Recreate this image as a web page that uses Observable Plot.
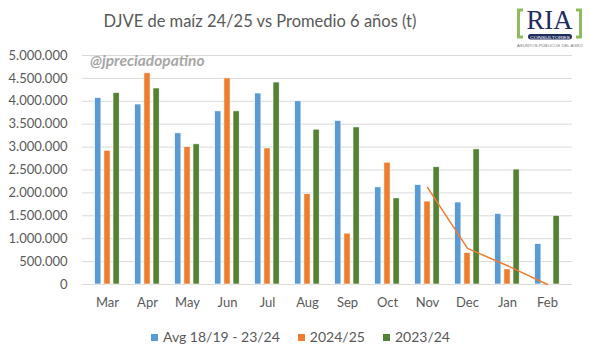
<!DOCTYPE html>
<html><head><meta charset="utf-8">
<script src="https://cdn.jsdelivr.net/npm/d3@7"></script>
<script src="https://cdn.jsdelivr.net/npm/@observablehq/plot@0.6"></script>
<style>
body{margin:0;background:#fff;}
#wrap{position:relative;width:589px;height:357px;font-family:Lato,sans-serif;color:#595959;overflow:hidden;background:#fff;}
#title{position:absolute;top:10px;left:0;width:520px;text-align:center;font-size:16.5px;line-height:22px;}
#chart{position:absolute;top:40px;left:0;}
#wm{position:absolute;top:51px;left:90px;font-size:15.5px;font-weight:bold;font-style:italic;color:#a6a6a6;}
#logo{position:absolute;left:514px;top:4px;}
#legend{position:absolute;top:328px;left:0;width:589px;display:flex;justify-content:center;gap:18px;font-size:14px;line-height:18px;padding-left:12px;box-sizing:border-box;}
#legend span.sw{display:inline-block;width:7px;height:7px;margin-right:5px;vertical-align:1px;}
</style></head><body>
<div id="wrap">
  <div id="title">DJVE de maíz 24/25 vs Promedio 6 años (t)</div>
  <svg id="logo" width="72" height="46" viewBox="0 0 72 46">
    <path d="M9,6 H4.5 V33 H9" fill="none" stroke="#8dbb5e" stroke-width="3"/>
    <path d="M62,6 H66.5 V33 H62" fill="none" stroke="#8dbb5e" stroke-width="3"/>
    <text x="12.5" y="24.5" font-family="Liberation Serif, DejaVu Serif, serif" font-size="27" textLength="46" lengthAdjust="spacingAndGlyphs" fill="#1f2d5c">RIA</text>
    <rect x="14" y="30" width="44" height="5.5" rx="2.75" fill="#1f2d5c"/>
    <text x="16" y="34.6" font-family="Liberation Sans, sans-serif" font-size="4" textLength="40" lengthAdjust="spacingAndGlyphs" fill="#fff">CONSULTORES</text>
    <text x="3" y="43" font-family="Liberation Sans, sans-serif" font-size="4.3" textLength="66" lengthAdjust="spacingAndGlyphs" fill="#777">ASUNTOS PÚBLICOS DEL AGRO</text>
  </svg>
  <div id="chart"></div>
  <div id="wm">@jpreciadopatino</div>
  <div id="legend"></div>
</div>
<script>
const months = ["Mar","Apr","May","Jun","Jul","Aug","Sep","Oct","Nov","Dec","Jan","Feb"];
const avgValues = [4070000,3930000,3300000,3780000,4170000,4000000,3570000,2120000,2170000,1790000,1540000,880000];
const currentValues = [2920000,4610000,3000000,4500000,2970000,1970000,1110000,2660000,1810000,690000,330000,null];
const previousValues = [4180000,4280000,3060000,3780000,4410000,3380000,3430000,1880000,2560000,2950000,2510000,1500000];
const trendMonths = ["Nov","Dec","Jan","Feb"];
const trendValues = [2120000,790000,410000,0];
const yTicks = [0,500000,1000000,1500000,2000000,2500000,3000000,3500000,4000000,4500000,5000000];
const seriesNames = ["Avg 18/19 - 23/24","2024/25","2023/24"];
const seriesColors = ["#5b9bd5","#ed7d31","#548235"];

const rows = months.map((m,i)=>({month:m, avg:avgValues[i], cur:currentValues[i], prev:previousValues[i]}));
const trend = trendMonths.map((m,i)=>({month:m, value:trendValues[i]}));
const fmt = d3.formatLocale({thousands:".", grouping:[3], decimal:","}).format(",d");

const barOpts = {insetLeft:16.9, insetRight:16.9, stroke:"#ffffff", strokeWidth:0.6};
const chart = Plot.plot({
  width:589, height:280,
  marginLeft:82, marginRight:17, marginTop:15, marginBottom:36,
  style:{fontFamily:"Lato, sans-serif", fontSize:"13px", color:"#595959", background:"transparent", overflow:"visible"},
  x:{type:"band", domain:months, padding:0, label:null, tickSize:0, tickPadding:13},
  y:{domain:[0,5000000], ticks:yTicks, tickFormat:fmt, label:null, tickSize:0, tickPadding:15},
  marks:[
    Plot.ruleY(yTicks, {stroke:"#d9d9d9", strokeWidth:1}),
    Plot.barY(rows, {x:"month", y:"avg", fill:seriesColors[0], dx:-9.2, ...barOpts}),
    Plot.barY(rows, {x:"month", y:"cur", fill:seriesColors[1], dx:0, ...barOpts}),
    Plot.barY(rows, {x:"month", y:"prev", fill:seriesColors[2], dx:9.1, ...barOpts}),
    Plot.line(trend, {x:"month", y:"value", stroke:seriesColors[1], strokeWidth:1.5})
  ]
});
document.getElementById("chart").appendChild(chart);

const legend = document.getElementById("legend");
seriesNames.forEach((n,i)=>{
  const item = document.createElement("div");
  item.innerHTML = `<span class="sw" style="background:${seriesColors[i]}"></span>${n}`;
  legend.appendChild(item);
});
</script>
</body></html>
